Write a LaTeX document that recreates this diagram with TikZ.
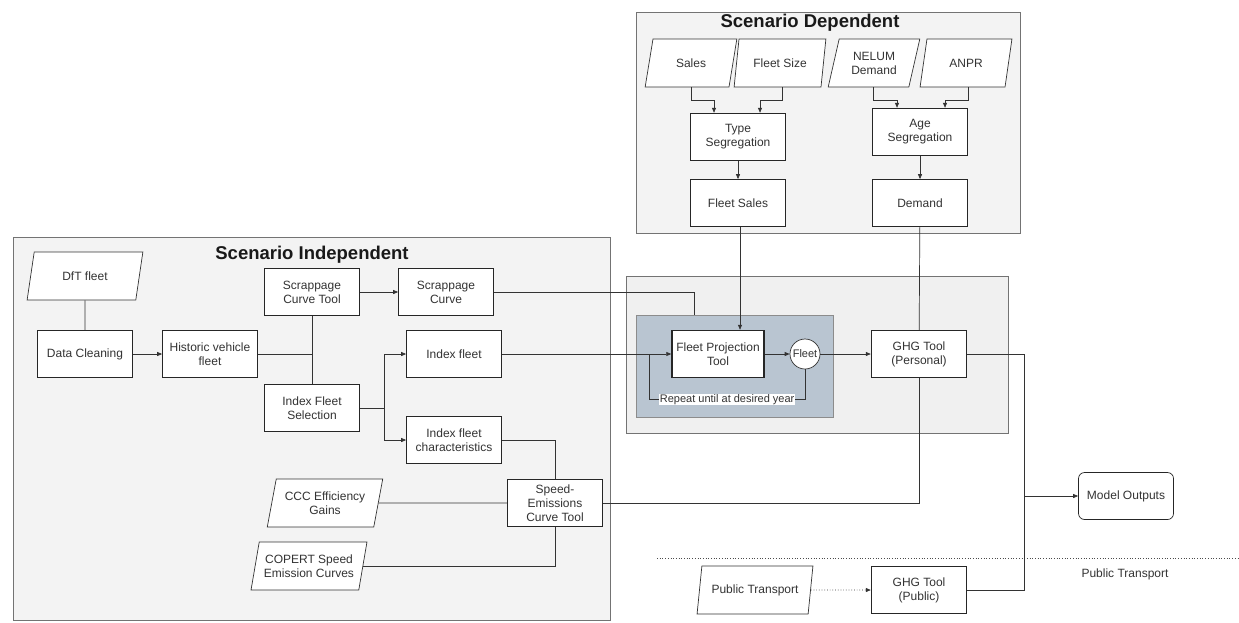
\documentclass[tikz,border=0pt]{standalone}
\usepackage{fontspec}
\setmainfont{Liberation Sans}
\usetikzlibrary{arrows.meta,shapes.geometric,positioning,calc}
\definecolor{txtgray}{HTML}{333333}
\definecolor{panelgray}{HTML}{F3F3F3}
\definecolor{loopblue}{HTML}{B9C5D1}

\begin{document}
\begin{tikzpicture}[x=1pt, y=-1pt,
    tool/.style={draw=black!85, line width=1.4pt, fill=white, minimum width=95pt, minimum height=47pt, align=center, font=\fontsize{12}{14}\selectfont, text=txtgray, inner sep=1pt},
    data/.style={tool, line width=0.7pt},
    inp/.style={draw=black!80, line width=0.7pt, fill=white, trapezium, trapezium left angle=73, trapezium right angle=107, trapezium stretches=true, minimum width=116pt, minimum height=48pt, align=center, font=\fontsize{12}{14}\selectfont, text=txtgray, inner sep=1pt},
    sinp/.style={inp, minimum width=92pt},
    panel/.style={draw=black!55, line width=0.7pt, fill=panelgray},
    ttl/.style={font=\fontsize{18.5}{20}\selectfont\bfseries, text=black!90},
    ln/.style={draw=black!80, line width=0.7pt},
    arr/.style={ln, -{Triangle[length=5pt,width=4pt]}},
    lbl/.style={font=\fontsize{11}{13}\selectfont, text=txtgray, fill=white, inner sep=0.5pt}
]
\useasboundingbox (0,0) rectangle (1239,622);

% panels
\draw[panel] (13,237) rectangle (610,620);
\draw[panel] (636,12) rectangle (1020,233);
\draw[panel, fill=black!6] (626,276) rectangle (1008,433);
\node[draw=black!45, line width=0.7pt, fill=loopblue, minimum width=197pt, minimum height=102pt, inner sep=0pt] (loop) at (734.5,366) {};

\node[ttl] (indep) at (312,255) {Scenario Independent};
\node[ttl] (dep) at (810,23) {Scenario Dependent};

% scenario dependent
\node[sinp] (sales) at (691,63) {Sales};
\node[sinp] (fsize) at (780,63) {Fleet Size};
\node[sinp] (nelum) at (874,63) {NELUM\\Demand};
\node[sinp] (anpr) at (966,63) {ANPR};
\node[tool] (typeseg) at (738,137) {Type\\Segregation};
\node[tool] (ageseg) at (920,132) {Age\\Segregation};
\node[data] (fsales) at (738,203) {Fleet Sales};
\node[data] (demand) at (920,203) {Demand};

% scenario independent
\node[inp] (dft) at (85,276) {DfT fleet};
\node[tool] (clean) at (85,354) {Data Cleaning};
\node[data] (hist) at (210,354) {Historic vehicle\\fleet};
\node[tool] (sct) at (312,292) {Scrappage\\Curve Tool};
\node[tool] (ifs) at (312,408) {Index Fleet\\Selection};
\node[data] (sc) at (446,292) {Scrappage\\Curve};
\node[data] (idx) at (454,354) {Index fleet};
\node[data] (ifc) at (454,440) {Index fleet\\characteristics};
\node[inp] (ccc) at (325,503) {CCC Efficiency\\Gains};
\node[inp] (copert) at (309,566) {COPERT Speed\\Emission Curves};
\node[tool] (sect) at (555,503) {Speed-\\Emissions\\Curve Tool};

% projection
\node[tool, minimum width=92pt] (fpt) at (718,354) {Fleet Projection\\Tool};
\node[draw=black!80, line width=0.7pt, fill=white, circle, minimum size=30pt, inner sep=0pt, font=\fontsize{11}{13}\selectfont, text=txtgray] (fleet) at (805,354) {Fleet};
\node[tool] (ghgp) at (919,354) {GHG Tool\\(Personal)};

% outputs
\node[tool] (ghgpub) at (919,590) {GHG Tool\\(Public)};
\node[inp] (pubt) at (755,590) {Public Transport};
\node[data, line width=0.7pt, rounded corners=6pt] (out) at (1126,496) {Model Outputs};
\node[font=\fontsize{12}{14}\selectfont, text=txtgray] (publbl) at (1125,574) {Public Transport};
\coordinate (sepl) at (657,558);
\coordinate (sepr) at (1239,558);
\draw[black!70, dotted, line width=0.7pt] (sepl) -- (sepr);

% connectors
\draw[arr] (sales.south) -- ++(0,13) -| ([xshift=-24pt]typeseg.north);
\draw[arr] ([xshift=2pt]fsize.south) -- ++(0,13) -| ([xshift=22pt]typeseg.north);
\draw[arr] ([xshift=-1pt]nelum.south) -- ++(0,13) -| ([xshift=-23pt]ageseg.north);
\draw[arr] ([xshift=2pt]anpr.south) -- ++(0,13) -| ([xshift=25pt]ageseg.north);
\draw[arr] (typeseg) -- (fsales);
\draw[arr] (ageseg) -- (demand);

\draw[ln] (dft) -- (clean);
\draw[arr] (clean) -- (hist);
\draw[ln] (hist.east) -- (hist.east -| sct.south);
\draw[ln] (sct) -- (ifs);
\draw[arr] (sct) -- (sc);
\draw[arr] (ifs.east) -- ++(24,0) coordinate (fork) |- (idx.west);
\draw[arr] (fork) |- (ifc.west);
\draw[ln] (ifc.east) -| (sect.north);
\draw[ln] (ccc) -- (sect);
\draw[ln] (copert.east) -| (sect.south);
\draw[ln] (sect.east) -| (ghgp.south);

\draw[arr] (idx) -- (fpt);
\draw[ln] (sc.east) -| ([xshift=-40pt]loop.north);
\draw[arr] ([xshift=2pt]fsales.south) -- ([xshift=2pt]fsales.south |- fpt.north);
\draw[ln] (demand) -- (ghgp);
\draw[arr] (fpt) -- (fleet);
\draw[arr] (fleet) -- (ghgp);
\draw[ln] (fleet.south) -- ++(0,30) -| node[lbl, pos=0.25] {Repeat until at desired year} ([xshift=-22pt]fpt.west);

\draw[ln] (ghgp.east) -- ++(57,0) coordinate (jn) |- (ghgpub.east);
\draw[arr] (jn |- out.west) -- (out.west);
\draw[arr, dotted] (pubt) -- (ghgpub);
\end{tikzpicture}
\end{document}
